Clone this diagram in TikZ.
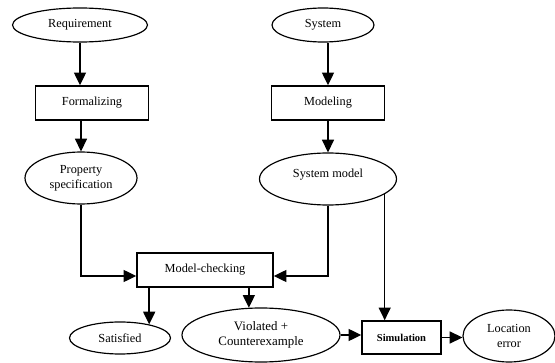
\documentclass[tikz,border=0pt]{standalone}
\usepackage{fontspec}
\setmainfont{Liberation Serif}
\newfontfamily\timesfont{Liberation Serif}
\usetikzlibrary{positioning, arrows.meta, shapes.geometric}

\begin{document}
\begin{tikzpicture}[
		x=0.3mm, y=-0.3mm,
		>={Triangle[length=3.8mm, width=3.6mm]},
		line width=1.2pt,
		state/.style={draw, ellipse, line width=1pt, inner sep=0pt, align=center, font=\timesfont\fontsize{10.5}{12.5}\selectfont},
		task/.style={draw, rectangle, line width=1.3pt, minimum height=10.2mm, align=center, font=\timesfont\fontsize{10.5}{12.5}\selectfont},
	]
	\useasboundingbox (0,0) rectangle (555,363);

	\node[state, minimum width=40.5mm, minimum height=10.2mm] (req) at (80,25) {Requirement};
	\node[task, minimum width=34mm] (form) at (92,103) {Formalizing};
	\node[state, minimum width=33.6mm, minimum height=15.6mm] (prop) at (81,178) {Property\\specification};
	\node[state, minimum width=30.6mm, minimum height=10.2mm] (sys) at (323,25) {System};
	\node[task, minimum width=34mm] (model) at (328,103) {Modeling};
	\node[state, minimum width=41.1mm, minimum height=15.6mm, text depth=3.7mm] (sysm) at (328,179) {System model};
	\node[task, minimum width=40.8mm] (check) at (205,270) {Model-checking};
	\node[state, minimum width=30.3mm, minimum height=9.6mm] (sat) at (120,338) {Satisfied};
	\node[state, minimum width=47.4mm, minimum height=16.2mm, font=\timesfont\fontsize{11}{13}\selectfont] (viol) at (261,335) {Violated +\\Counterexample};
	\node[task, minimum width=23.7mm, minimum height=9.9mm, font=\timesfont\bfseries\fontsize{9}{11}\selectfont] (sim) at (401.5,337.5) {Simulation};
	\node[state, minimum width=27.6mm, minimum height=15.6mm] (loc) at (509,336) {Location\\error};

	\draw[->] (req.south) -- (req.south |- form.north);
	\draw[->] (prop.north |- form.south) -- (prop.north);
	\draw[->] (model.north |- sys.south) -- (model.north);
	\draw[->] (model.south) -- (sysm.north);
	\draw[->] (prop.south) |- ([yshift=-1.8mm]check.west);
	\draw[->] (sysm.south) |- ([yshift=-1.8mm]check.east);
	\draw[->] (sat.25 |- check.south) -- (sat.25);
	\draw[->] (viol.114 |- check.south) -- (viol.114);
	\draw[->] (sysm.-15) -- (sysm.-15 |- sim.north);
	\draw[->] (viol.east) -- (viol.east -| sim.west);
	\draw[->] (sim.east) -- (sim.east -| loc.west);
\end{tikzpicture}
\end{document}
